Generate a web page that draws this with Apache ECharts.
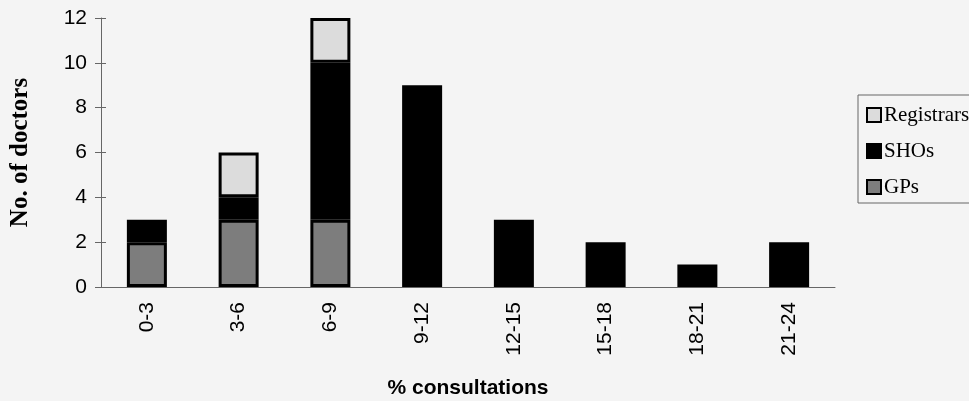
<!DOCTYPE html>
<html><head><meta charset="utf-8">
<script src="https://cdn.jsdelivr.net/npm/echarts@6/dist/echarts.min.js"></script>
<style>html,body{margin:0;padding:0;background:#f4f4f4}#c{width:969px;height:401px}</style>
</head><body><div id="c"></div>
<script>
var categories = ['0-3','3-6','6-9','9-12','12-15','15-18','18-21','21-24'];
var gps = [2,3,3,0,0,0,0,0];
var shos = [1,1,7,9,3,2,1,2];
var registrars = [0,2,2,0,0,0,0,0];
var yTicks = [0,2,4,6,8,10,12];

function seg(name, data, color) {
  return {
    name: name, type: 'bar', stack: 'a', barWidth: 40,
    data: data.map(function(v){ return v === 0 ? null : v; }),
    itemStyle: { color: color, borderColor: '#000', borderWidth: 3 },
    emphasis: { disabled: true }
  };
}
var chart = echarts.init(document.getElementById('c'));
chart.setOption({
  backgroundColor: '#f4f4f4',
  animation: false,
  grid: { left: 101, right: 134, top: 18, bottom: 114, containLabel: false, outerBoundsMode: 'none' },
  legend: {
    orient: 'vertical', left: 858, top: 95,
    data: ['Registrars','SHOs','GPs'],
    icon: 'rect',
    borderColor: '#666', borderWidth: 1, padding: [9, 12, 5, 8],
    itemWidth: 14, itemHeight: 14, itemGap: 14,
    textStyle: { fontFamily: 'Liberation Serif', fontSize: 21, lineHeight: 22, color: '#000', padding: [0,0,0,-2] },
    itemStyle: { borderColor: '#000', borderWidth: 2 }
  },
  xAxis: {
    type: 'category', data: categories,
    name: '% consultations', nameLocation: 'middle', nameGap: 91,
    nameTextStyle: { fontFamily: 'Liberation Sans', fontWeight: 'bold', fontSize: 21, color: '#000' },
    axisLine: { lineStyle: { color: '#666', width: 1 } },
    axisTick: { length: 8, lineStyle: { color: '#666' } },
    axisLabel: { rotate: 90, fontFamily: 'Liberation Sans', fontSize: 21, color: '#000', margin: 15 }
  },
  yAxis: [{
    type: 'value', min: 0, max: 12, interval: 2,
    name: 'No. of doctors', nameLocation: 'middle', nameGap: 68,
    nameTextStyle: { fontFamily: 'Liberation Serif', fontWeight: 'bold', fontSize: 25, color: '#000' },
    axisLine: { show: true, lineStyle: { color: '#666', width: 1 } },
    axisTick: { show: true, length: 6, lineStyle: { color: '#666' } },
    splitLine: { show: false },
    axisLabel: { fontFamily: 'Liberation Sans', fontSize: 21, color: '#000', margin: 14,
      formatter: function(v){ return yTicks.indexOf(v) >= 0 ? String(v) : ''; } }
  }, {
    type: 'value', min: 0, max: 12, interval: 2, position: 'left',
    axisLine: { show: false },
    axisTick: { show: true, inside: true, length: 5, lineStyle: { color: '#666' } },
    splitLine: { show: false },
    axisLabel: { show: false }
  }],
  series: [
    seg('GPs', gps, '#7d7d7d'),
    seg('SHOs', shos, '#000000'),
    seg('Registrars', registrars, '#dcdcdc')
  ]
});
</script></body></html>
